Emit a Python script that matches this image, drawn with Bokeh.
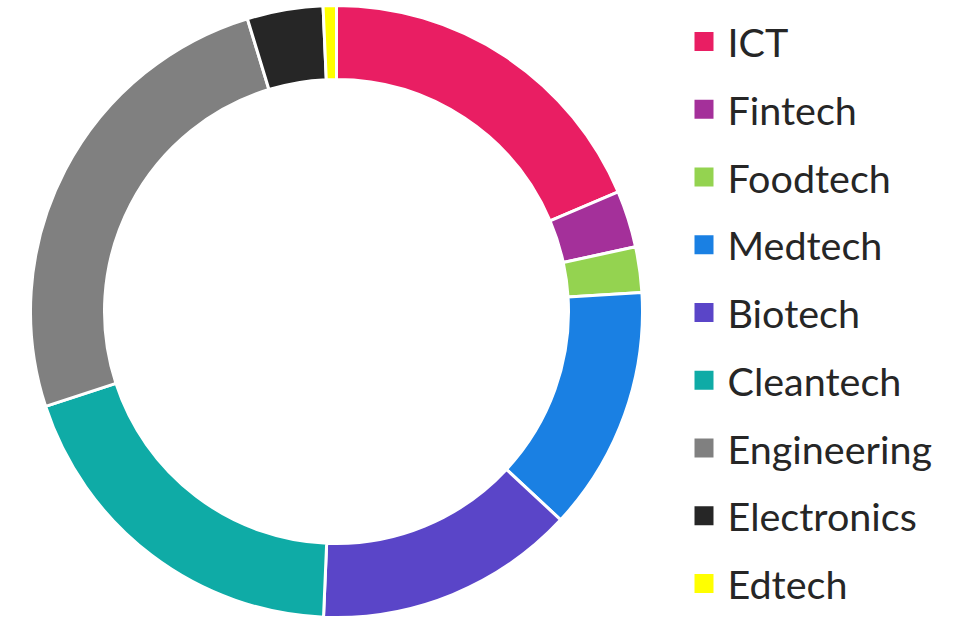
import numpy as np
from bokeh.plotting import figure
from bokeh.models import Range1d, ColumnDataSource
from bokeh.core.properties import value
from bokeh.embed import file_html
from bokeh.resources import INLINE

categories = ["ICT", "Fintech", "Foodtech", "Medtech", "Biotech",
              "Cleantech", "Engineering", "Electronics", "Edtech"]
shares = [18.6, 3.0, 2.4, 12.9, 13.75, 19.3, 25.3, 4.0, 0.7]
colors = ["#E91E63", "#A4309A", "#94D350", "#1A80E3", "#5A45C8",
          "#0FABA6", "#808080", "#262626", "#FFFF00"]

W, H = 958, 617
p = figure(width=W, height=H, output_backend="svg", toolbar_location=None,
           x_range=Range1d(0, W), y_range=Range1d(0, H), min_border=0)
p.axis.visible = False
p.grid.visible = False
p.outline_line_color = None
p.background_fill_color = "white"
p.border_fill_color = "white"

frac = np.array(shares) / np.sum(shares)
cum = np.concatenate([[0], np.cumsum(frac)])
start = np.pi / 2 - 2 * np.pi * cum[:-1]
end = np.pi / 2 - 2 * np.pi * cum[1:]

cx, cy = 336, H - 311
src = ColumnDataSource(dict(start=start, end=end, color=colors, cat=categories))
p.annular_wedge(x=cx, y=cy, inner_radius=232, outer_radius=306,
                start_angle="start", end_angle="end", direction="clock",
                fill_color="color", line_color="white", line_width=3, source=src)

n = len(categories)
ys = [H - (41 + 67.75 * i) for i in range(n)]
lsrc = ColumnDataSource(dict(y=ys, color=colors, cat=categories))
p.scatter(x=703.5, y="y", marker="square", size=19, fill_color="color",
          line_color=None, source=lsrc)
p.text(x=727, y="y", text="cat", source=lsrc, text_font=value("Lato"),
       text_font_size="39.5px", text_color="#262626", text_baseline="middle",
       text_align="left")

open("out.html", "w").write(file_html(p, INLINE))
